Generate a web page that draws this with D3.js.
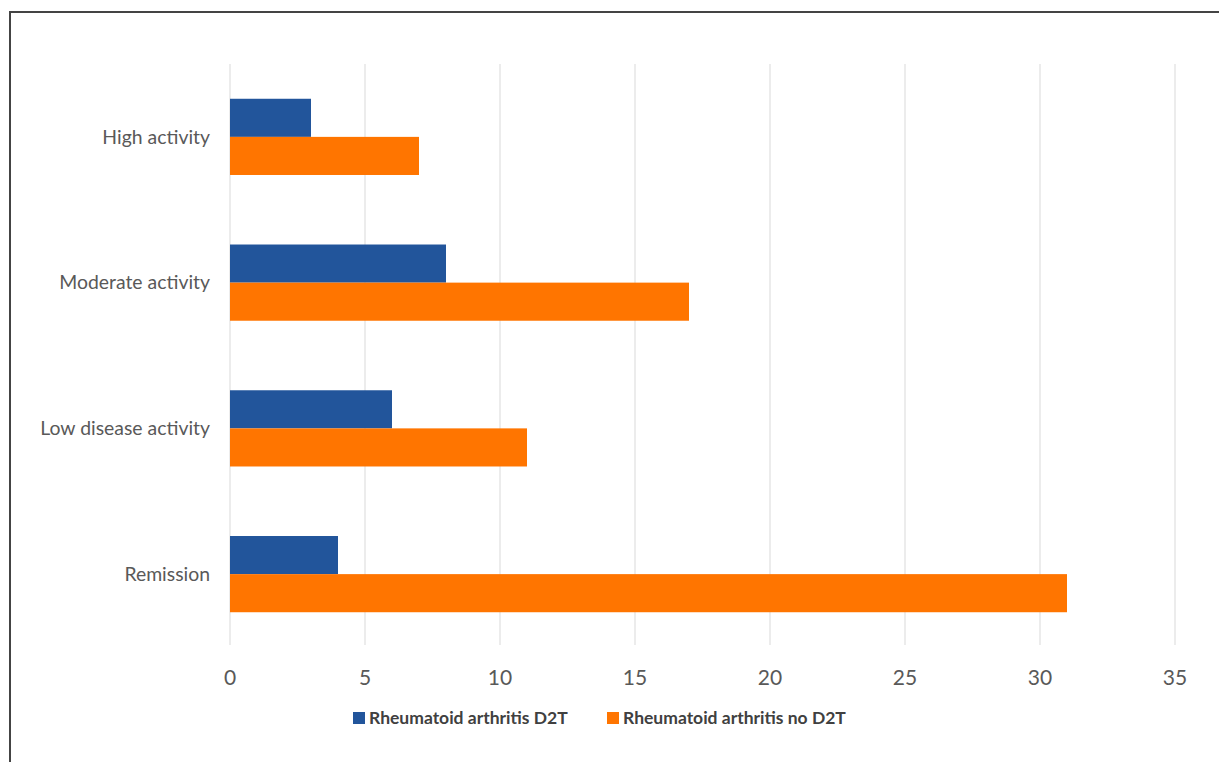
<!DOCTYPE html>
<html>
<head>
<meta charset="utf-8">
<style>
body { margin: 0; background: #fff; }
svg { display: block; }
</style>
</head>
<body>
<svg width="1219" height="762"></svg>
<script src="https://d3js.org/d3.v7.min.js"></script>
<script>

// data
var categories = ["High activity", "Moderate activity", "Low disease activity", "Remission"];
var seriesNames = ["Rheumatoid arthritis D2T", "Rheumatoid arthritis no D2T"];
var d2t = [3, 8, 6, 4];
var noD2t = [7, 17, 11, 31];
var xTicks = [0, 5, 10, 15, 20, 25, 30, 35];

var colors = ["#22559b", "#ff7500"];

var svg = d3.select("svg");

// frame round the figure
svg.append("rect")
    .attr("x", 10).attr("y", 12)
    .attr("width", 1260).attr("height", 800)
    .attr("fill", "none")
    .attr("stroke", "#444")
    .attr("stroke-width", 2);

var x = d3.scaleLinear()
    .domain([0, 35])
    .range([230, 1175]);

var y = d3.scaleBand()
    .domain(categories)
    .range([64, 647])
    .paddingInner(0.477)
    .paddingOuter(0.2385);

var sub = d3.scaleBand()
    .domain(seriesNames)
    .range([0, y.bandwidth()]);

// gridlines
svg.append("g")
  .selectAll("line")
  .data(xTicks)
  .enter().append("line")
    .attr("x1", function(d) { return x(d); })
    .attr("x2", function(d) { return x(d); })
    .attr("y1", 64)
    .attr("y2", 645)
    .attr("stroke", "#d9d9d9")
    .attr("stroke-width", 1);

var rows = categories.map(function(c, i) {
  return {cat: c, vals: [d2t[i], noD2t[i]]};
});

var groups = svg.append("g")
  .selectAll("g")
  .data(rows)
  .enter().append("g")
    .attr("transform", function(d) { return "translate(0," + y(d.cat) + ")"; });

groups.selectAll("rect")
  .data(function(d) { return d.vals.map(function(v, j) { return {v: v, s: seriesNames[j], j: j}; }); })
  .enter().append("rect")
    .attr("x", x(0))
    .attr("y", function(d) { return sub(d.s); })
    .attr("width", function(d) { return x(d.v) - x(0); })
    .attr("height", sub.bandwidth())
    .attr("fill", function(d) { return colors[d.j]; });

// category labels
svg.append("g")
  .selectAll("text")
  .data(categories)
  .enter().append("text")
    .attr("x", 210)
    .attr("y", function(d) { return y(d) + y.bandwidth() / 2; })
    .attr("dy", "0.35em")
    .attr("text-anchor", "end")
    .attr("font-family", "Lato, sans-serif")
    .attr("font-size", "19.4px")
    .attr("fill", "#595959")
    .text(function(d) { return d; });

// x axis labels
svg.append("g")
  .selectAll("text")
  .data(xTicks)
  .enter().append("text")
    .attr("x", function(d) { return x(d); })
    .attr("y", 678)
    .attr("dy", "0.35em")
    .attr("text-anchor", "middle")
    .attr("font-family", "Lato, sans-serif")
    .attr("font-size", "21px")
    .attr("fill", "#595959")
    .text(function(d) { return d; });

// legend
var legendX = [353, 607];
var legend = svg.append("g")
  .selectAll("g")
  .data(seriesNames)
  .enter().append("g")
    .attr("transform", function(d, i) { return "translate(" + legendX[i] + ",712)"; });

legend.append("rect")
    .attr("width", 12).attr("height", 12)
    .attr("fill", function(d, i) { return colors[i]; });

legend.append("text")
    .attr("x", 16)
    .attr("y", 6)
    .attr("dy", "0.35em")
    .attr("font-family", "Lato, sans-serif")
    .attr("font-weight", "bold")
    .attr("font-size", "17.5px")
    .attr("fill", "#404040")
    .text(function(d) { return d; });

</script>
</body>
</html>
